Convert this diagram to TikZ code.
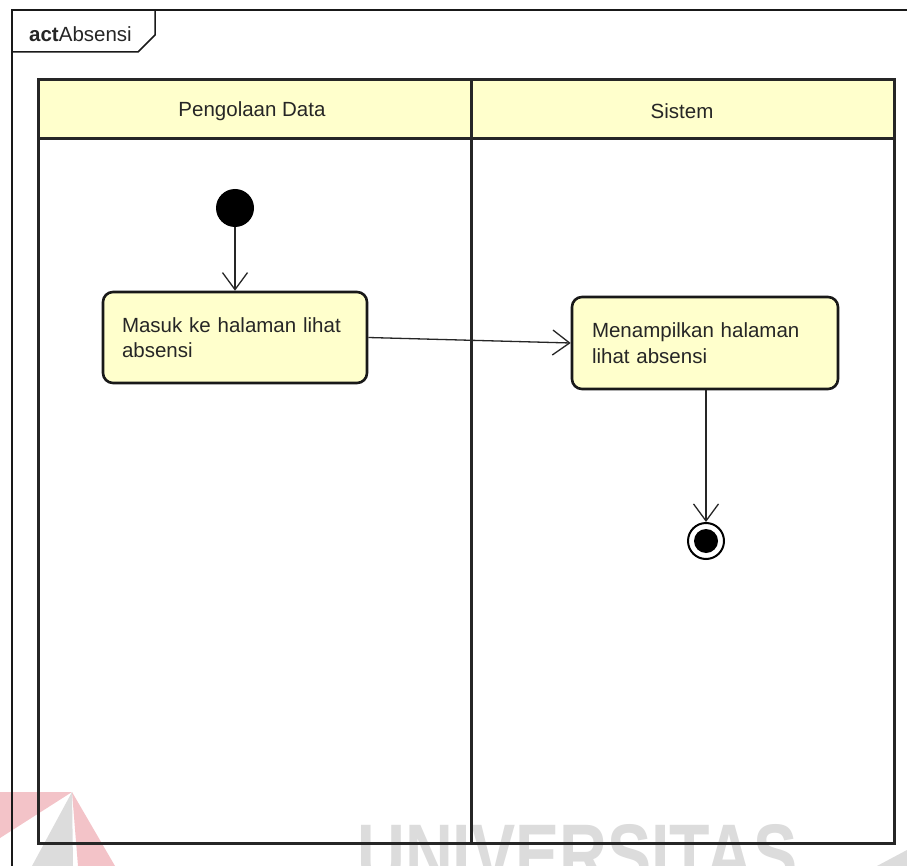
\documentclass[tikz,border=0pt]{standalone}
\usepackage{fontspec}
\usepackage{graphicx}
\setmainfont{Liberation Sans}
\usetikzlibrary{arrows.meta}
\definecolor{actfill}{HTML}{FFFFCC}
\definecolor{wmgrey}{HTML}{DCDCDC}
\definecolor{wmred}{HTML}{F3C3C8}
\begin{document}
\begin{tikzpicture}[x=1pt,y=-1pt,
  lbl/.style={font=\fontsize{20.5}{25.5}\selectfont, text=black!85},
  action/.style={draw=black!90, line width=2.6pt, rounded corners=10pt, fill=actfill,
     align=left, text width=226pt, inner xsep=19pt, lbl},
  flow/.style={-{Straight Barb[length=17pt,width=25pt,line width=1.3pt]}, line width=1.3pt, draw=black!85},
  lane/.style={line width=3pt, draw=black!85},
  frameline/.style={line width=1.5pt, draw=black!90}
]
\clip (0,0) rectangle (907,866);
\fill[white] (0,0) rectangle (907,866);
% watermark
\fill[wmred] (0,792) -- (72,792) -- (0,838) -- cycle;
\fill[wmred] (72,792) -- (78,866) -- (115,866) -- cycle;
\fill[wmgrey] (72,792) -- (32,866) -- (73,866) -- cycle;
\fill[wmgrey] (877,866) -- (907,850) -- (907,866) -- cycle;
\node[anchor=base west, inner sep=0, text=wmgrey, font=\fontsize{86}{86}\selectfont\bfseries] (wm) at (357,884) {\scalebox{0.77}[1]{UNIVERSITAS}};
% frame
\draw[frameline] (12,880) -- (12,10) -- (920,10);
\draw[frameline] (12,52) -- (138,52) -- (155,35) -- (155,10);
\node[anchor=west, lbl, inner sep=0] (title) at (29,34) {\textbf{act}Absensi};
% swimlanes
\fill[actfill] (38,80) rectangle (894,139);
\draw[lane] (38,80) rectangle (894,843);
\draw[lane] (38,139) -- (894,139);
\draw[lane] (471,80) -- (471,843);
\node[lbl] (h1) at (252,111) {Pengolaan Data};
\node[lbl] (h2) at (682,111) {Sistem};
% nodes
\node[circle, fill=black, minimum size=38pt, inner sep=0] (start) at (235,208) {};
\node[action, minimum width=264pt, minimum height=91pt] (b1) at (235,337.5) {Masuk ke halaman lihat\\absensi};
\node[action, minimum width=266pt, minimum height=92pt] (b2) at (705,343) {Menampilkan halaman\\lihat absensi};
\node[circle, draw=black, line width=2pt, fill=white, minimum size=36pt, inner sep=0] (end) at (706,541) {};
\node[circle, fill=black, minimum size=24pt, inner sep=0] (endin) at (end.center) {};
% flows
\draw[flow] (start) -- (b1);
\draw[flow] (b1.east) -- (b2.west);
\draw[flow] (end |- b2.south) -- (end.north);
\end{tikzpicture}
\end{document}
